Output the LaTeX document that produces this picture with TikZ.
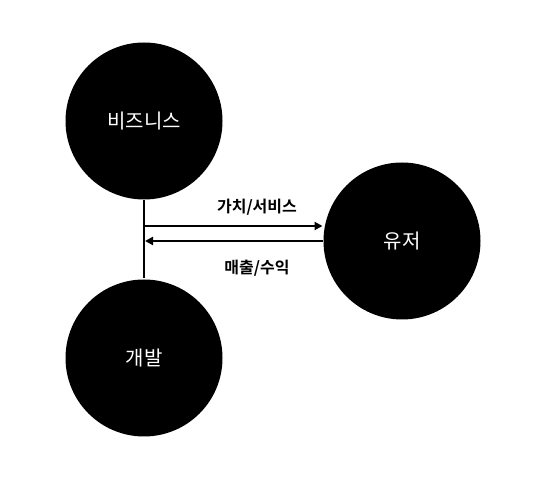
\documentclass[tikz,border=0pt]{standalone}
\usepackage{fontspec}
\setmainfont{Noto Sans CJK KR}[BoldFont={Noto Sans CJK KR Bold}]
\usetikzlibrary{arrows.meta}
\tikzset{ n/.style = { circle % party
        , fill = black
        , minimum size = 157pt
        , inner sep = 0pt
        , text = white
        , font = \fontsize{20}{24}\selectfont
        }
        , l/.style = { rectangle % flow label
        , inner sep = 0pt
        , font = \fontsize{16}{19}\selectfont\bfseries
        }
        }

\begin{document}
\begin{tikzpicture}[x=1pt, y=-1pt, line width=2pt,
        flow_style/.style={draw=black, line width=2pt, -{Triangle[length=8pt,width=8pt]}}]
        \useasboundingbox (0,0) rectangle (555,494);

        \node [n](n1) at (144,121) {비즈니스};
        \node [n](n2) at (144,358) {개발};
        \node [n](n3) at (402,241) {유저};

        \coordinate (c1) at (145,226);
        \coordinate (c2) at (145,241);

        \draw (n1.south) -- (n2.north);
        \draw [flow_style] (c1) -- (c1 -| n3.west);
        \draw [flow_style] (n3.west) -- (c2);

        \node [l](e1) at (257,207) {가치/서비스};
        \node [l](e2) at (257,268) {매출/수익};
\end{tikzpicture}
\end{document}
